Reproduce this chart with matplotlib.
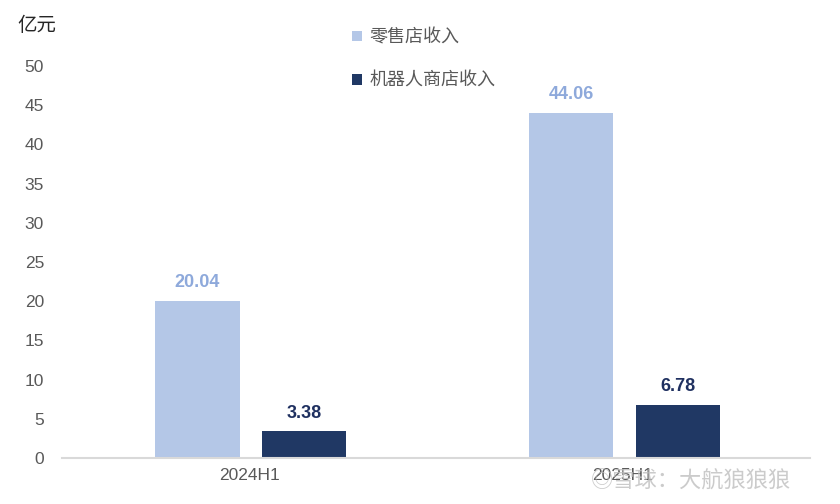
import matplotlib.pyplot as plt
import numpy as np

periods = ["2024H1", "2025H1"]
retail = [20.04, 44.06]
robot = [3.38, 6.78]
series_names = ["零售店收入", "机器人商店收入"]


def main():
    plt.rcParams["font.family"] = ["Liberation Sans", "Noto Sans CJK SC", "DejaVu Sans"]

    light = "#B4C7E7"
    dark = "#203864"

    fig = plt.figure(figsize=(8.4, 5.04), dpi=100)
    ax = fig.add_axes([0.074, 0.0913, 0.89, 0.7778])

    x = np.arange(len(periods))
    w = 0.225
    b1 = ax.bar(x - 0.138, retail, w, color=light, label=series_names[0])
    b2 = ax.bar(x + 0.148, robot, w, color=dark, label=series_names[1])

    for rect, v in zip(b1, retail):
        ax.text(rect.get_x() + rect.get_width() / 2, v + 1.2, f"{v:.2f}",
                ha="center", va="bottom", fontsize=13, fontweight="bold",
                color="#8EA9DB")
    for rect, v in zip(b2, robot):
        ax.text(rect.get_x() + rect.get_width() / 2, v + 1.2, f"{v:.2f}",
                ha="center", va="bottom", fontsize=13, fontweight="bold",
                color="#1F3060")

    ax.set_xlim(-0.5, 1.5)
    ax.set_ylim(0, 50)
    ax.set_yticks(np.arange(0, 51, 5))
    ax.set_xticks(x)
    ax.set_xticklabels(periods)
    ax.tick_params(axis="both", length=0, labelsize=12.5, labelcolor="#595959")
    ax.tick_params(axis="y", pad=13)
    ax.tick_params(axis="x", pad=7)

    for s in ["top", "right", "left"]:
        ax.spines[s].set_visible(False)
    ax.spines["bottom"].set_color("#D9D9D9")
    ax.spines["bottom"].set_linewidth(1.5)

    fig.text(0.021, 0.948, "亿元", fontsize=14, color="#262626", va="center")

    ax.legend(loc="upper left", bbox_to_anchor=(0.366, 1.135),
              frameon=False, fontsize=13, handlelength=0.55,
              handleheight=0.55, handletextpad=0.4, labelspacing=1.45,
              labelcolor="#595959")

    # watermark
    fig.text(0.703, 0.045, "◎雪球：大航狼狼狼", fontsize=16, color="#BFBFBF",
             alpha=0.8, va="center",
             family=["Noto Sans CJK SC", "DejaVu Sans"])

    fig.savefig("out.png", dpi=100)


if __name__ == "__main__":
    main()
